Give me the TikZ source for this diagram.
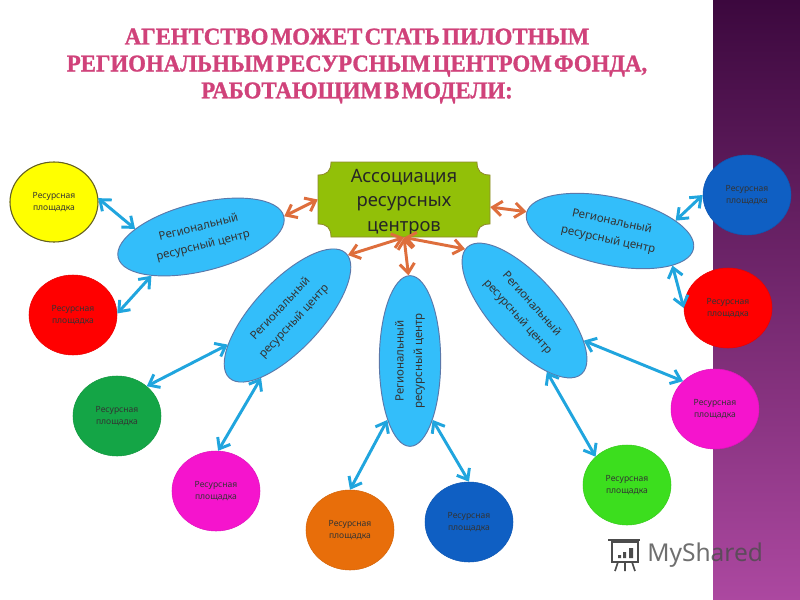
\documentclass[tikz,border=0pt]{standalone}
\usepackage{fontspec}
\setmainfont{Noto Sans}
\newfontfamily\titlefont[FakeStretch=0.95,FakeBold=1.2,WordSpace=0.4]{Liberation Serif}
\usetikzlibrary{arrows.meta,shapes.geometric}
\definecolor{bandtop}{RGB}{60,8,62}
\definecolor{bandmid}{RGB}{125,40,122}
\definecolor{bandlow}{RGB}{172,72,160}
\definecolor{titlepink}{RGB}{208,66,122}
\definecolor{assocgreen}{RGB}{146,192,8}
\definecolor{centerblue}{RGB}{51,190,250}
\definecolor{centeredge}{RGB}{90,120,170}
\definecolor{linkblue}{RGB}{32,165,222}
\definecolor{linkorange}{RGB}{222,110,60}
\definecolor{siteyellow}{RGB}{255,255,0}
\definecolor{sitered}{RGB}{255,0,0}
\definecolor{sitegreen}{RGB}{20,165,70}
\definecolor{sitemagenta}{RGB}{245,20,205}
\definecolor{siteorange}{RGB}{232,110,10}
\definecolor{siteblue}{RGB}{15,95,195}
\definecolor{sitelime}{RGB}{60,222,30}
\tikzset{
    site/.style={ellipse,minimum width=66pt,minimum height=60pt,inner sep=0pt,align=center,
        font=\fontsize{6.4}{8.8}\selectfont,text=black!80},
    regional/.style={ellipse,draw=centeredge,line width=0.7pt,fill=centerblue,minimum width=128pt,
        minimum height=51pt,inner sep=0pt,align=center,font=\fontsize{8.6}{14}\selectfont,text=black!80},
    bluelink/.style={draw=linkblue,line width=2.2pt,{Straight Barb[length=7pt,width=11pt]}-{Straight Barb[length=7pt,width=11pt]}},
    orangelink/.style={draw=linkorange,line width=2.2pt,{Straight Barb[length=7pt,width=11pt]}-{Straight Barb[length=7pt,width=11pt]}}
}
\begin{document}
\begin{tikzpicture}[x=0.75pt,y=-0.75pt]
    \useasboundingbox (0,0) rectangle (800,600);
    \fill[white] (0,0) rectangle (800,600);

    % Right band
    \shade[top color=bandtop,middle color=bandmid,bottom color=bandlow] (713,0) rectangle (800,600);

    % Title
    \node[align=center,text=titlepink,font=\titlefont\bfseries\fontsize{18}{20.2}\selectfont] (title) at (357,66)
        {АГЕНТСТВО МОЖЕТ СТАТЬ ПИЛОТНЫМ\\РЕГИОНАЛЬНЫМ РЕСУРСНЫМ ЦЕНТРОМ ФОНДА,\\РАБОТАЮЩИМ В МОДЕЛИ:};

    % Association plaque
    \filldraw[fill=assocgreen,draw=olive!70!gray,line width=0.6pt] (331,162) -- (477,162)
        .. controls (477,171) and (481,175) .. (490,175) -- (490,224)
        .. controls (481,224) and (477,228) .. (477,237) -- (331,237)
        .. controls (331,228) and (327,224) .. (318,224) -- (318,175)
        .. controls (327,175) and (331,171) .. (331,162) -- cycle;
    \node[align=center,minimum width=129pt,minimum height=52pt,inner sep=0pt,
        font=\fontsize{13.8}{18.4}\selectfont,text=black!85] (assoc) at (404,202.5)
        {Ассоциация\\ресурсных\\центров};

    % Regional centres
    \node[regional,rotate=14] (regA) at (201,237) {Региональный\\ресурсный центр};
    \node[regional,rotate=47] (regB) at (287.5,315.5) {Региональный\\ресурсный центр};
    \node[regional,rotate=90,minimum height=46pt] (regC) at (410,361) {Региональный\\ресурсный центр};
    \node[regional,rotate=-48] (regD) at (524.5,310.5) {Региональный\\ресурсный центр};
    \node[regional,rotate=-12] (regE) at (610,231) {Региональный\\ресурсный центр};

    % Resource sites
    \foreach \name/\x/\y/\col in {siteA/54/202/siteyellow,siteB/73/315/sitered,siteC/117/416/sitegreen,
        siteD/216/491/sitemagenta,siteE/350/530/siteorange,siteF/469/522/siteblue,siteG/627/485/sitelime,
        siteH/715/409/sitemagenta,siteI/728/308/sitered,siteJ/747/195/siteblue} {
        \node[site,fill=\col,draw=\col!92!black] (\name) at (\x,\y) {Ресурсная\\площадка};
    }
    \draw[olive!60!black,line width=0.8pt] (siteA) ellipse (44 and 40);

    % Links from the association
    \draw[orangelink] (assoc.178) -- (regA.0);
    \draw[orangelink] (assoc.-3) -- (regE.179);
    \draw[orangelink] (assoc.south) -- (regB.358);
    \draw[orangelink] (assoc.south) -- (regC.1);
    \draw[orangelink] (assoc.south) -- (regD.182);

    % Links to the sites
    \foreach \from/\to in {siteA.5/regA.159,siteB.2/regA.204,siteC.45/regB.159,siteD.87/regB.200,
        siteE.90/regC.159,siteF.90/regC.201,siteG.138/regD.338,siteH.139/regD.21,
        siteI.180/regE.343,siteJ.180/regE.21} {
        \draw[bluelink] (\from) -- (\to);
    }

    % Watermark
    \node[anchor=west,inner sep=0pt,text=black!70,opacity=0.8,font=\fontsize{18.4}{19}\selectfont] (mark) at (647,555) {MyShared};
    \draw[black!70,line width=1.2pt] (612,542) rectangle (638,562);
    \draw[black!70,line width=1.2pt] (608,540) -- (640,540);
    \draw[black!70,line width=1.2pt] (618,562) -- (615,571) (625,562) -- (625,571) (632,562) -- (635,571);
    \fill[black!70] (618,555) rectangle (621,558) (623,552) rectangle (626,558) (629,548) rectangle (633,558);
\end{tikzpicture}
\end{document}
